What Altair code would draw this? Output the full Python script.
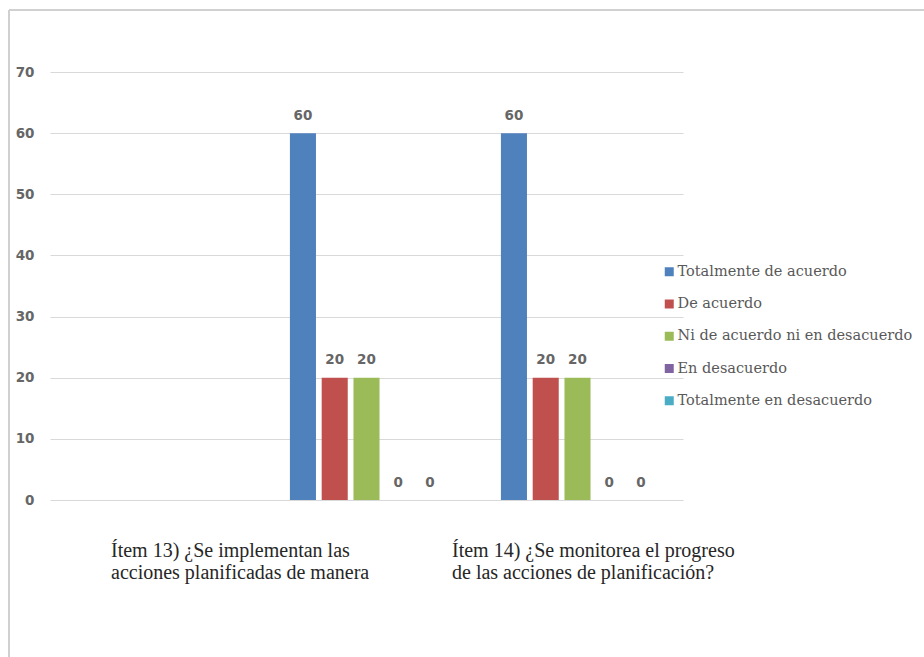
import altair as alt
import pandas as pd

# Survey answers per item (percent of respondents)
items = ["Ítem 13", "Ítem 14"]
series = [
    "Totalmente de acuerdo",
    "De acuerdo",
    "Ni de acuerdo ni en desacuerdo",
    "En desacuerdo",
    "Totalmente en desacuerdo",
]
item13_values = [60, 20, 20, 0, 0]
item14_values = [60, 20, 20, 0, 0]
colors = ["#4f81bd", "#c0504d", "#9bbb59", "#8064a2", "#4bacc6"]
questions = [
    "Ítem 13) ¿Se implementan las\nacciones planificadas de manera",
    "Ítem 14) ¿Se monitorea el progreso\nde las acciones de planificación?",
]
y_ticks = [0, 10, 20, 30, 40, 50, 60, 70]

# category slots: an empty leading slot followed by the two items
x_domain = [""] + items

rows = []
for item, vals in zip(items, [item13_values, item14_values]):
    for s, v in zip(series, vals):
        rows.append({"item": item, "serie": s, "valor": v})
df = pd.DataFrame(rows)
qdf = pd.DataFrame({"item": items, "pregunta": questions})

GRID = "#d9d9d9"
TXT = "#595959"

x_enc = alt.X(
    "item:N",
    scale=alt.Scale(domain=x_domain, paddingInner=0, paddingOuter=0),
    axis=None,
)
xoff_enc = alt.XOffset(
    "serie:N",
    sort=series,
    scale=alt.Scale(domain=series, paddingInner=0.18, paddingOuter=0.91),
)
y_enc = alt.Y(
    "valor:Q",
    scale=alt.Scale(domain=[0, 70], nice=False),
    axis=alt.Axis(
        values=y_ticks,
        title=None,
        domain=False,
        ticks=False,
        grid=True,
        gridColor=GRID,
        gridWidth=1.2,
        labelFont="DejaVu Sans",
        labelFontSize=13.5,
        labelFontWeight="bold",
        labelColor="#666666",
        labelPadding=16,
    ),
)

bars = alt.Chart(df).mark_bar().encode(
    x=x_enc,
    xOffset=xoff_enc,
    y=y_enc,
    color=alt.Color(
        "serie:N",
        sort=series,
        scale=alt.Scale(domain=series, range=colors),
        legend=alt.Legend(
            title=None,
            orient="none",
            legendX=612,
            legendY=192.5,
            padding=0,
            symbolType="square",
            symbolSize=81,
            symbolStrokeWidth=0,
            symbolOpacity=1,
            labelFont="DejaVu Serif",
            labelFontSize=14.5,
            labelColor=TXT,
            labelOffset=1,
            rowPadding=17.25,
            labelLimit=300,
        ),
    ),
)

labels = alt.Chart(df).mark_text(
    baseline="alphabetic",
    dy=-13.5,
    font="DejaVu Sans",
    fontSize=13.5,
    fontWeight="bold",
    color="#666666",
).encode(
    x=x_enc,
    xOffset=xoff_enc,
    y=alt.Y("valor:Q"),
    text=alt.Text("valor:Q"),
)

def question(item, shift):
    return (
        alt.Chart(qdf)
        .transform_filter(alt.datum.item == item)
        .mark_text(
            align="left",
            baseline="alphabetic",
            dx=shift,
            font="Liberation Serif",
            fontSize=20,
            lineHeight=22,
            lineBreak="\n",
            color="#262626",
        )
        .encode(
            x=alt.X("item:N", scale=alt.Scale(domain=x_domain), axis=None, bandPosition=0),
            y=alt.value(485),
            text="pregunta:N",
        )
    )

q13 = question("Ítem 13", -150)
q14 = question("Ítem 14", -20)

# thin outer frame (top and left edges)
frame_top = alt.Chart(pd.DataFrame({"a": [0]})).mark_rule(
    color="#d0d0d0", strokeWidth=2
).encode(x=alt.value(-41), x2=alt.value(880), y=alt.value(-62))
frame_left = alt.Chart(pd.DataFrame({"a": [0]})).mark_rule(
    color="#d0d0d0", strokeWidth=2
).encode(x=alt.value(-41), y=alt.value(-62), y2=alt.value(590))

chart = (
    alt.layer(frame_top, frame_left, bars, labels, q13, q14)
    .properties(
        width=633,
        height=428,
        padding={"left": 50, "top": 72, "right": 241, "bottom": 157},
        autosize=alt.AutoSizeParams(type="none"),
        background="white",
    )
    .configure_view(stroke=None)
)

chart.save("out.html", embed_options={"renderer": "svg", "actions": False})
